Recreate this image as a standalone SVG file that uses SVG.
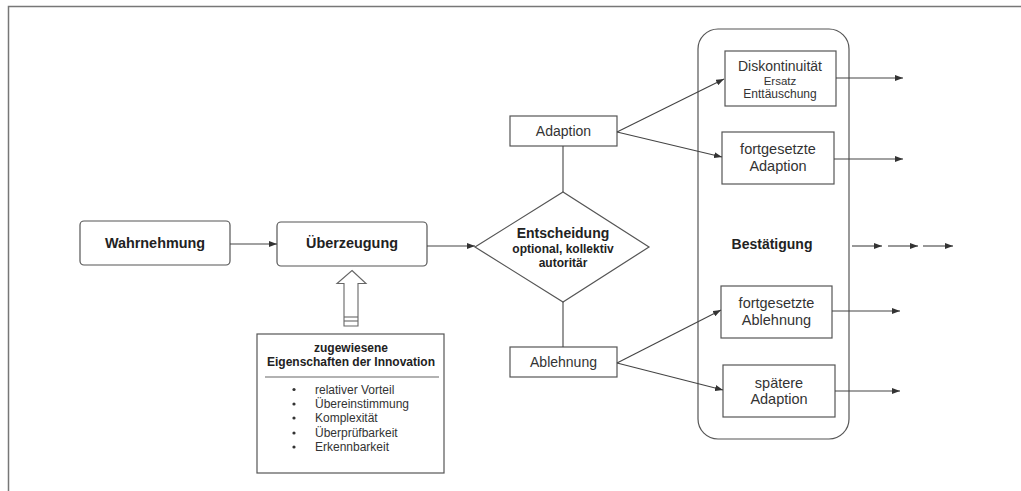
<svg xmlns="http://www.w3.org/2000/svg" width="1021" height="491" viewBox="0 0 1021 491">
<defs>
<marker id="ah" viewBox="0 0 8 6" refX="8" refY="3" markerWidth="8" markerHeight="6" markerUnits="userSpaceOnUse" orient="auto">
<path d="M0,0 L8,3 L0,6 Z" fill="#333"/>
</marker>
<style>
.box{fill:#fff;stroke:#555;stroke-width:1.2}
.ln{fill:none;stroke:#444;stroke-width:1.1}
.t{font-family:"Liberation Sans",Arial,sans-serif;fill:#333;text-anchor:middle}
.b{font-weight:bold;fill:#222}
.l{text-anchor:start}
</style>
</defs>
<rect width="1021" height="491" fill="#fff"/>
<g id="frame">
<path d="M8.5,491 V6.5 H1021" fill="none" stroke="#777" stroke-width="1.5"/>
</g>
<g id="bestaetigung">
<rect class="box" x="698" y="29" width="151" height="410" rx="20"/>
<text class="t b" x="772" y="249" font-size="14">Bestätigung</text>
</g>
<g id="wahrnehmung">
<rect class="box" x="80" y="221" width="150" height="44" rx="4"/>
<text class="t b" x="155" y="247.5" font-size="14.4">Wahrnehmung</text>
</g>
<g id="ueberzeugung">
<rect class="box" x="277" y="222" width="150" height="44" rx="4"/>
<text class="t b" x="352" y="247.5" font-size="14.4">Überzeugung</text>
</g>
<g id="entscheidung">
<polygon class="box" points="475,247 563,192 649,247 563,302"/>
<text class="t b" x="563" y="238" font-size="14">Entscheidung</text>
<text class="t b" x="563" y="253" font-size="12">optional, kollektiv</text>
<text class="t b" x="563" y="267" font-size="12">autoritär</text>
</g>
<g id="adaption">
<rect class="box" x="510" y="116" width="107" height="30"/>
<text class="t" x="563.5" y="135.5" font-size="14">Adaption</text>
</g>
<g id="ablehnung">
<rect class="box" x="510" y="347" width="107" height="30"/>
<text class="t" x="563.5" y="366.5" font-size="14">Ablehnung</text>
</g>
<g id="diskontinuitaet">
<rect class="box" x="725" y="51" width="111" height="55"/>
<text class="t" x="780" y="71" font-size="14">Diskontinuität</text>
<text class="t" x="780" y="84.5" font-size="11.5">Ersatz</text>
<text class="t" x="780" y="98" font-size="12">Enttäuschung</text>
</g>
<g id="fortgesetzte-adaption">
<rect class="box" x="722" y="132" width="112" height="52"/>
<text class="t" x="778" y="154" font-size="14.5">fortgesetzte</text>
<text class="t" x="778" y="171" font-size="14.5">Adaption</text>
</g>
<g id="fortgesetzte-ablehnung">
<rect class="box" x="721" y="286" width="111" height="52"/>
<text class="t" x="776.5" y="307.5" font-size="14.5">fortgesetzte</text>
<text class="t" x="776.5" y="325" font-size="14.5">Ablehnung</text>
</g>
<g id="spaetere-adaption">
<rect class="box" x="723" y="365" width="112" height="52"/>
<text class="t" x="779" y="387.5" font-size="14.5">spätere</text>
<text class="t" x="779" y="404" font-size="14.5">Adaption</text>
</g>
<g id="eigenschaften">
<rect class="box" x="257" y="334" width="187" height="139"/>
<text class="t b" x="351" y="352" font-size="12">zugewiesene</text>
<text class="t b" x="351" y="366" font-size="12">Eigenschaften der Innovation</text>
<line x1="265" y1="377" x2="439" y2="377" stroke="#666" stroke-width="1.2"/>
<g fill="#333">
<circle cx="294" cy="389.5" r="1.6"/>
<circle cx="294" cy="404" r="1.6"/>
<circle cx="294" cy="418" r="1.6"/>
<circle cx="294" cy="433" r="1.6"/>
<circle cx="294" cy="447" r="1.6"/>
</g>
<g font-size="12">
<text class="t l" x="315" y="393.5">relativer Vorteil</text>
<text class="t l" x="315" y="408">Übereinstimmung</text>
<text class="t l" x="315" y="422">Komplexität</text>
<text class="t l" x="315" y="437">Überprüfbarkeit</text>
<text class="t l" x="315" y="451">Erkennbarkeit</text>
</g>
</g>
<g id="hollow-arrow">
<path d="M352,270.5 L366,283.5 L358,283.5 L358,326 L344,326 L344,283.5 L337,283.5 Z" fill="#fff" stroke="#666" stroke-width="1.1"/>
<line x1="344" y1="317" x2="358" y2="317" stroke="#666" stroke-width="1.1"/>
<line x1="344" y1="321" x2="358" y2="321" stroke="#666" stroke-width="1.1"/>
</g>
<g id="connectors">
<line class="ln" x1="230" y1="244" x2="277" y2="244" marker-end="url(#ah)"/>
<line class="ln" x1="427" y1="246" x2="475" y2="246" marker-end="url(#ah)"/>
<line class="ln" x1="563" y1="146" x2="563" y2="192"/>
<line class="ln" x1="563" y1="302" x2="563" y2="347"/>
<line class="ln" x1="617" y1="132" x2="724" y2="79" marker-end="url(#ah)"/>
<line class="ln" x1="617" y1="132" x2="722" y2="157" marker-end="url(#ah)"/>
<line class="ln" x1="617" y1="363" x2="721" y2="310" marker-end="url(#ah)"/>
<line class="ln" x1="617" y1="363" x2="723" y2="390" marker-end="url(#ah)"/>
<line class="ln" x1="836" y1="78" x2="903" y2="78" marker-end="url(#ah)"/>
<line class="ln" x1="834" y1="159" x2="903" y2="159" marker-end="url(#ah)"/>
<line class="ln" x1="832" y1="311" x2="900" y2="311" marker-end="url(#ah)"/>
<line class="ln" x1="835" y1="391" x2="900" y2="391" marker-end="url(#ah)"/>
<line class="ln" x1="852" y1="246" x2="882" y2="246" marker-end="url(#ah)"/>
<line class="ln" x1="888" y1="246" x2="918" y2="246" marker-end="url(#ah)"/>
<line class="ln" x1="923" y1="246" x2="953" y2="246" marker-end="url(#ah)"/>
</g>
</svg>
